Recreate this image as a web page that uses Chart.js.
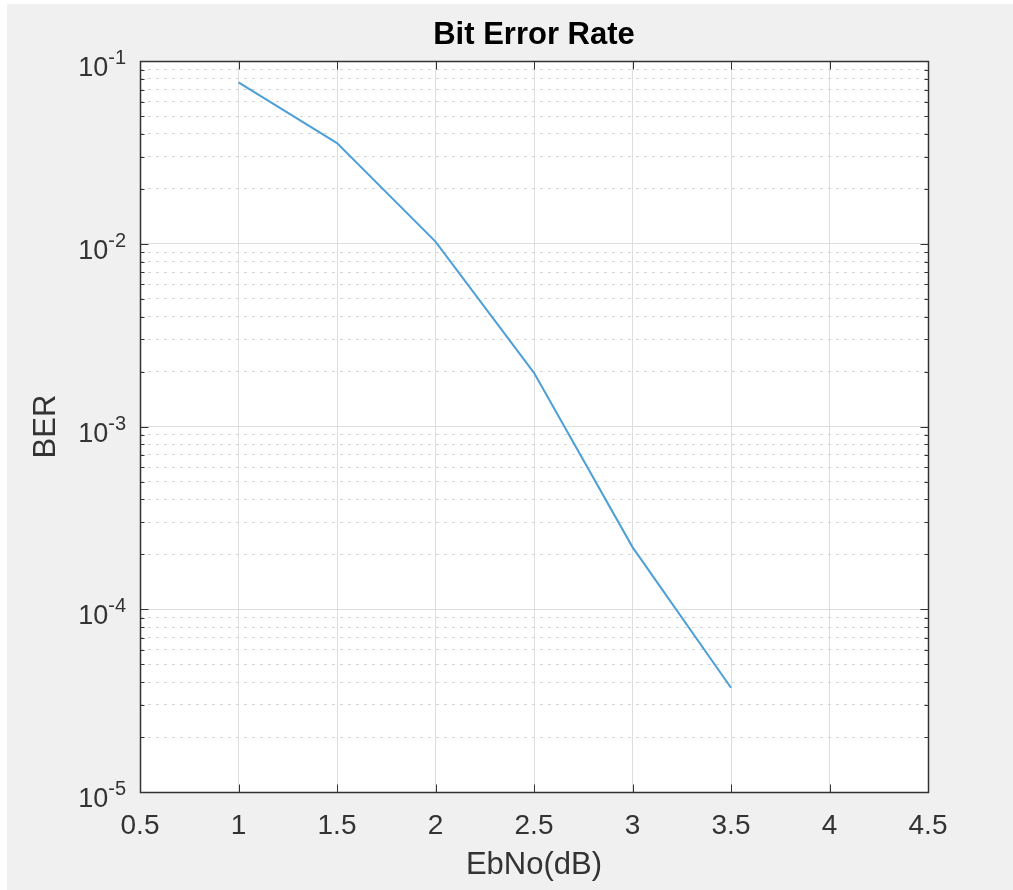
<!DOCTYPE html>
<html><head><meta charset="utf-8">
<script src="https://cdn.jsdelivr.net/npm/chart.js@4"></script>
<style>html,body{margin:0;padding:0;background:#fff;} canvas{display:block;}</style>
</head><body>
<canvas id="c" width="1013" height="890"></canvas>
<script>
const chartTitle = 'Bit Error Rate';
const xAxisTitle = 'EbNo(dB)';
const yAxisTitle = 'BER';
const ebnoDb = [1, 1.5, 2, 2.5, 3, 3.5];
const berValues = [0.0765, 0.0356, 0.0103, 0.00197, 0.000219, 0.0000372];
const xTickValues = [0.5, 1, 1.5, 2, 2.5, 3, 3.5, 4, 4.5];
const xTickLabels = ['0.5', '1', '1.5', '2', '2.5', '3', '3.5', '4', '4.5'];
const yDecadeExponents = [-5, -4, -3, -2, -1];
const yTickBase = '10';
const yTickExponentLabels = ['-5', '-4', '-3', '-2', '-1'];
const yMinorMultipliers = [2, 3, 4, 5, 6, 7, 8, 9];

const FONT = "'Liberation Sans', Arial, Helvetica, sans-serif";
const yTicks = [];
yDecadeExponents.forEach((e, i) => {
  yTicks.push({ value: Math.pow(10, e), major: true });
  if (i < yDecadeExponents.length - 1) {
    yMinorMultipliers.forEach(m => yTicks.push({ value: m * Math.pow(10, e), major: false }));
  }
});
const setYTicks = s => { s.ticks = yTicks.map(t => ({ value: t.value, major: t.major })); };

const bgPlugin = {
  id: 'bg',
  beforeDraw(chart) {
    const { ctx, chartArea: a, width, height } = chart;
    ctx.save();
    ctx.fillStyle = '#f0f0f0';
    ctx.fillRect(7, 4, width - 7, height - 4);
    ctx.fillStyle = '#ffffff';
    ctx.fillRect(a.left, a.top, a.right - a.left, a.bottom - a.top);
    ctx.restore();
  }
};

const boxPlugin = {
  id: 'box',
  afterDraw(chart) {
    const { ctx, chartArea: a } = chart;
    const xs = chart.scales.x, ys = chart.scales.y;
    ctx.save();
    ctx.strokeStyle = '#333333';
    ctx.lineWidth = 1.5;
    const L = Math.round(a.left) + 0.5, R = Math.round(a.right) + 0.5;
    const T = Math.round(a.top) + 0.5, B = Math.round(a.bottom) + 0.5;
    ctx.strokeRect(L, T, R - L, B - T);
    ctx.lineWidth = 1;
    ctx.beginPath();
    xTickValues.forEach(v => {
      const px = Math.round(xs.getPixelForValue(v)) + 0.5;
      ctx.moveTo(px, B); ctx.lineTo(px, B - 8);
      ctx.moveTo(px, T); ctx.lineTo(px, T + 8);
    });
    yTicks.forEach(t => {
      const py = Math.round(ys.getPixelForValue(t.value)) + 0.5;
      const len = t.major ? 8 : 4;
      ctx.moveTo(L, py); ctx.lineTo(L + len, py);
      ctx.moveTo(R, py); ctx.lineTo(R - len, py);
    });
    ctx.stroke();
    // y tick labels 10^n
    ctx.fillStyle = '#333333';
    ctx.textBaseline = 'alphabetic';
    ctx.textAlign = 'left';
    yDecadeExponents.forEach((e, i) => {
      const py = ys.getPixelForValue(Math.pow(10, e));
      ctx.font = '27px ' + FONT;
      const w1 = ctx.measureText(yTickBase).width;
      ctx.font = '20px ' + FONT;
      const w2 = ctx.measureText(yTickExponentLabels[i]).width;
      const x0 = a.left - 14 - w1 - w2;
      ctx.font = '27px ' + FONT;
      ctx.fillText(yTickBase, x0, py + 15);
      ctx.font = '20px ' + FONT;
      ctx.fillText(yTickExponentLabels[i], x0 + w1, py + 3);
    });
    ctx.restore();
  }
};

new Chart(document.getElementById('c'), {
  type: 'line',
  data: {
    datasets: [{
      data: ebnoDb.map((x, i) => ({ x: x, y: berValues[i] })),
      borderColor: '#4da0d7',
      borderWidth: 2,
      pointRadius: 0,
      tension: 0,
      fill: false
    }]
  },
  options: {
    responsive: false,
    animation: false,
    devicePixelRatio: 1,
    layout: { padding: { left: 0, right: 85, top: 0, bottom: 0 } },
    plugins: {
      legend: { display: false },
      tooltip: { enabled: false },
      title: {
        display: true, text: chartTitle, fullSize: false,
        font: { family: FONT, size: 31, weight: 'bold' }, color: '#000000',
        padding: { top: 17, bottom: 7 }
      }
    },
    scales: {
      x: {
        type: 'linear', min: 0.5, max: 4.5,
        afterBuildTicks: s => { s.ticks = xTickValues.map(v => ({ value: v })); },
        ticks: {
          callback: v => xTickLabels[xTickValues.indexOf(v)],
          font: { family: FONT, size: 28 }, color: '#333333',
          padding: 17, maxRotation: 0, autoSkip: false
        },
        grid: { color: '#dedede', lineWidth: 1, drawTicks: false },
        border: { display: false },
        title: {
          display: true, text: xAxisTitle,
          font: { family: FONT, size: 31 }, color: '#333333',
          padding: { top: 0, bottom: 6 }
        },
        afterFit: s => { s.height = 98; }
      },
      y: {
        type: 'logarithmic', min: 1e-5, max: 1e-1, position: 'left',
        afterBuildTicks: setYTicks,
        ticks: { display: false },
        grid: { color: c => (c.tick && c.tick.major) ? '#dedede' : 'rgba(0,0,0,0)', drawTicks: false },
        border: { display: false },
        title: {
          display: true, text: yAxisTitle,
          font: { family: FONT, size: 31 }, color: '#333333',
          padding: { top: 28, bottom: 0 }
        },
        afterFit: s => { s.width = 140; }
      },
      y2: {
        type: 'logarithmic', min: 1e-5, max: 1e-1, position: 'left',
        afterBuildTicks: setYTicks,
        ticks: { display: false },
        grid: { color: c => (c.tick && c.tick.major) ? 'rgba(0,0,0,0)' : '#d4d4d4', drawTicks: false },
        border: { display: false, dash: [3, 5] },
        afterFit: s => { s.width = 0; }
      }
    }
  },
  plugins: [bgPlugin, boxPlugin]
});
</script>
</body></html>
